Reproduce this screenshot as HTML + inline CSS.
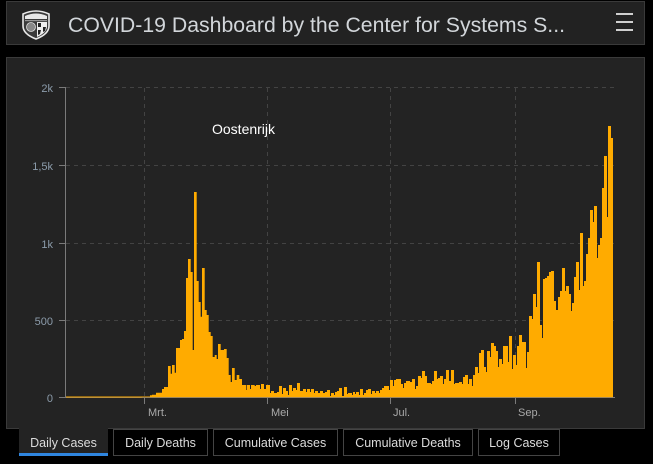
<!DOCTYPE html>
<html><head><meta charset="utf-8"><style>
html,body{margin:0;padding:0;background:#000;width:653px;height:464px;overflow:hidden}
svg{display:block}
text{font-family:"Liberation Sans",Arial,sans-serif}
</style></head><body>
<svg width="653" height="464" viewBox="0 0 653 464" xmlns="http://www.w3.org/2000/svg">
<rect x="0" y="0" width="653" height="464" fill="#000"/>
<!-- header -->
<rect x="6.5" y="1.5" width="638" height="43" fill="#222" stroke="#3a3a3a"/>
<!-- logo -->
<g>
<path d="M23 14 Q36 8 49 14 L49 26 Q49 34 36 39 Q23 34 23 26 Z" fill="#3a3a3a" stroke="#e8e8e8" stroke-width="1.6"/>
<path d="M25 16 Q36 11 47 16 L47 19 L25 19 Z" fill="#e8e8e8"/>
<rect x="25" y="20" width="22" height="1.2" fill="#999"/>
<circle cx="31" cy="27" r="4.5" fill="#888" stroke="#ddd" stroke-width="0.8"/>
<path d="M37 22 L47 22 L47 27 Q46 33 37 37 Z" fill="#eee"/>
<path d="M38 23 L41 23 L41 27 L38 27 Z M43 27 L46 27 L45 31 L43 32 Z M38 30 L41 30 L40 34 L38 35 Z" fill="#222"/>
</g>
<text x="68" y="32" font-size="21" fill="#d2d6da" textLength="497" lengthAdjust="spacingAndGlyphs">COVID-19 Dashboard by the Center for Systems S...</text>
<rect x="616" y="13" width="17" height="2" fill="#cfcfcf"/>
<rect x="616" y="21" width="17" height="2" fill="#cfcfcf"/>
<rect x="616" y="29" width="17" height="2" fill="#cfcfcf"/>
<!-- chart panel -->
<rect x="6.5" y="57.5" width="638" height="371" fill="#232323" stroke="#3a3a3a"/>
<!-- grid -->
<g stroke="#434343" stroke-width="1" stroke-dasharray="4 4">
<line x1="66" y1="87.5" x2="615" y2="87.5"/>
<line x1="66" y1="165.5" x2="615" y2="165.5"/>
<line x1="66" y1="243.5" x2="615" y2="243.5"/>
<line x1="66" y1="320.5" x2="615" y2="320.5"/>
<line x1="144.5" y1="88" x2="144.5" y2="397"/>
<line x1="267.5" y1="88" x2="267.5" y2="397"/>
<line x1="390.5" y1="88" x2="390.5" y2="397"/>
<line x1="515.5" y1="88" x2="515.5" y2="397"/>
</g>
<!-- axes -->
<g stroke="#7a7a7a" stroke-width="1">
<line x1="65.5" y1="87" x2="65.5" y2="397.5"/>
<line x1="59" y1="87.5" x2="65" y2="87.5"/>
<line x1="59" y1="165.5" x2="65" y2="165.5"/>
<line x1="59" y1="243.5" x2="65" y2="243.5"/>
<line x1="59" y1="320.5" x2="65" y2="320.5"/>
<line x1="59" y1="397.5" x2="65" y2="397.5"/>
<line x1="65" y1="397.5" x2="615" y2="397.5"/>
<line x1="144.5" y1="397" x2="144.5" y2="404"/>
<line x1="267.5" y1="397" x2="267.5" y2="404"/>
<line x1="390.5" y1="397" x2="390.5" y2="404"/>
<line x1="515.5" y1="397" x2="515.5" y2="404"/>
</g>
<g font-size="11" fill="#8c9cab" text-anchor="end">
<text x="53" y="92">2k</text>
<text x="53" y="170">1,5k</text>
<text x="53" y="248">1k</text>
<text x="53" y="325">500</text>
<text x="53" y="402">0</text>
</g>
<g font-size="11" fill="#a9a9a9">
<text x="148" y="416">Mrt.</text>
<text x="271" y="416">Mei</text>
<text x="393" y="416">Jul.</text>
<text x="518" y="416">Sep.</text>
</g>
<line x1="66" y1="397" x2="142" y2="397" stroke="#ffab00" stroke-width="1"/>
<!-- bars -->
<path fill="#ffab00" d="M142 397.3 V396.5 H150 V395.3 H152 V394.7 H156 V392.7 H162 V389 H164 V387 H168 V366 H170.7 V373.7 H172 V365 H174.7 V372.7 H176 V348 H180 V340 H182 V339 H184 V331 H186 V278 H188 V259 H190.7 V272 H192.7 V350 H194 V192 H196.7 V281 H198.7 V302 H200.7 V316.7 H202 V268 H204.7 V310 H206.7 V315 H208.7 V332 H210.7 V336 H212.7 V357 H214.7 V355 H216.7 V359 H218 V344 H220.7 V350 H224 V349 H226.7 V358 H228.7 V375 H230.7 V382 H232 V368 H234.7 V380 H236.7 V375 H239.3 V379 H242 V385 H246 V390 H246.7 V385 H250 V389 H251 V385 H254.7 V386 H256 V385 H260 V389 H261 V384 H264 V389 H266 V385 H270 V393 H271 V391 H274 V393 H277 V392 H279 V386 H282 V394 H283 V388 H286 V391 H288 V395 H289 V385 H292 V391 H293 V388 H296 V390 H297 V383 H300 V391 H303 V389 H306 V392 H307 V389 H310 V392 H311 V389 H314 V393 H315 V391 H318 V393 H320 V391 H323 V393 H325 V392 H327 V390 H330 V396 H331 V393 H334 V395 H335 V392 H337 V391 H339 V388 H342 V396 H344 V387 H347 V394 H348 V393 H352 V395 H353 V392 H355 V394 H356 V392 H359 V395 H360 V389 H363 V395 H364 V393 H366 V390 H368 V389 H371 V394 H372 V391 H375 V393 H376 V391 H379 V393 H380 V390 H382 V388 H384 V386 H389 V390 H390 V380 H393 V386 H394 V380 H396 V379 H401 V384 H403 V388 H404 V383 H406 V381 H410 V382 H412 V379 H415 V389 H416 V386 H418 V376 H421 V378 H422 V371 H425 V376 H427 V383 H431 V384 H432 V381 H434 V371 H437 V379 H438 V378 H440 V376 H443 V384 H444 V379 H446 V370 H449 V381 H451 V370 H454 V384 H455 V383 H459 V382 H462 V384 H463 V377 H465 V375 H468 V384 H469 V379 H472 V386 H473 V375 H475 V367 H478 V373 H479 V353 H481 V350 H484 V367 H486 V372 H487 V351 H490 V357 H491 V343 H494 V346 H496 V351 H498 V367 H499 V359 H502 V364 H503 V346 H508 V362 H509 V336 H512 V369 H513 V355 H516 V365 H517 V346 H519 V335 H522 V342 H526 V368 H527 V352 H529 V316 H532 V319 H533 V294 H536 V307 H537 V262 H540 V325 H542 V338 H543 V279 H545 V278 H547 V276 H549 V272 H551 V271 H554 V301 H556 V310 H558 V297 H560 V291 H562 V268 H565 V291 H566 V286 H569 V294 H571 V311 H572 V303 H574 V277 H576 V262 H579 V290 H580 V233 H583 V286 H584 V281 H586 V254 H588 V238 H590 V210 H593 V222 H594 V206 H597 V258 H598 V245 H600 V238 H602 V188 H604 V156 H607 V217 H608 V126 H611 V138 H613 V397.3 Z"/>
<text x="212" y="134" font-size="14" fill="#ffffff">Oostenrijk</text>
<!-- tabs -->
<rect x="19" y="428" width="89" height="28" fill="#232323"/>
<rect x="19" y="453" width="89" height="3" fill="#2f86e0"/>
<g fill="#000" stroke="#444" stroke-width="1">
<rect x="113.5" y="429.5" width="94" height="26"/>
<rect x="213.5" y="429.5" width="124" height="26"/>
<rect x="343.5" y="429.5" width="129" height="26"/>
<rect x="478.5" y="429.5" width="81" height="26"/>
</g>
<g font-size="12.5" fill="#dcdcdc" text-anchor="middle">
<text x="63.5" y="447">Daily Cases</text>
<text x="160.5" y="447">Daily Deaths</text>
<text x="275.5" y="447">Cumulative Cases</text>
<text x="408" y="447">Cumulative Deaths</text>
<text x="519" y="447">Log Cases</text>
</g>
</svg>
</body></html>
